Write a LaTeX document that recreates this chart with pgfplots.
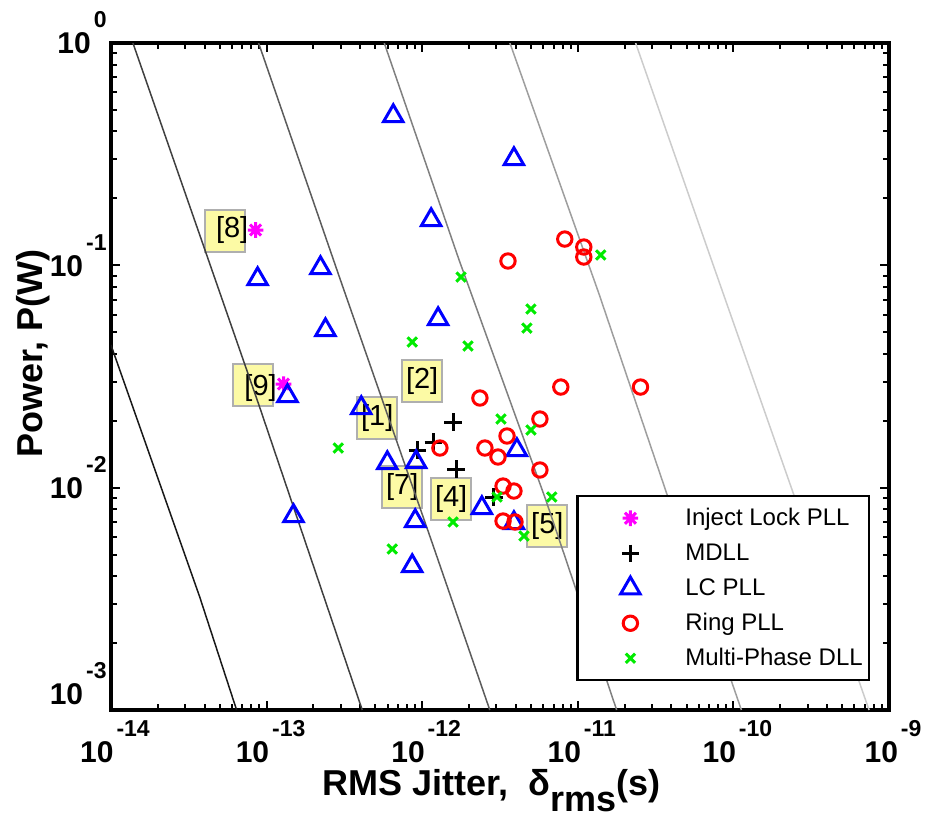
\documentclass[border=0pt]{standalone}
\usepackage{fontspec}
\setmainfont{Liberation Sans}
\usepackage{pgfplots}
\pgfplotsset{compat=1.18}

\pgfdeclareplotmark{ast8}{%
  \pgfpathmoveto{\pgfqpoint{-\pgfplotmarksize}{0pt}}\pgfpathlineto{\pgfqpoint{\pgfplotmarksize}{0pt}}%
  \pgfpathmoveto{\pgfqpoint{0pt}{-\pgfplotmarksize}}\pgfpathlineto{\pgfqpoint{0pt}{\pgfplotmarksize}}%
  \pgfpathmoveto{\pgfqpoint{-.7071\pgfplotmarksize}{-.7071\pgfplotmarksize}}\pgfpathlineto{\pgfqpoint{.7071\pgfplotmarksize}{.7071\pgfplotmarksize}}%
  \pgfpathmoveto{\pgfqpoint{-.7071\pgfplotmarksize}{.7071\pgfplotmarksize}}\pgfpathlineto{\pgfqpoint{.7071\pgfplotmarksize}{-.7071\pgfplotmarksize}}%
  \pgfusepathqstroke}

\definecolor{lcblue}{RGB}{0,0,255}
\definecolor{ringred}{RGB}{255,0,0}
\definecolor{dllgreen}{RGB}{0,235,0}
\definecolor{injmag}{RGB}{255,0,255}
\definecolor{boxfill}{RGB}{252,250,165}
\definecolor{boxdraw}{RGB}{175,175,175}
\definecolor{cA}{gray}{0.1}
\definecolor{cB}{gray}{0.25}
\definecolor{cC}{gray}{0.36}
\definecolor{cD}{gray}{0.5}
\definecolor{cE}{gray}{0.62}
\definecolor{cF}{gray}{0.8}

\pgfplotsset{mylegimg/.style={legend image code/.code={\path[draw=none,fill=none] (0pt,-1pt) rectangle (51pt,1pt);\draw[mark repeat=2,mark phase=2,##1] plot coordinates {(0pt,0pt) (25.5pt,0pt) (51pt,0pt)};}}}

\newcommand{\tl}[1]{{\bfseries\fontsize{15}{15}\selectfont 10\hspace{1.5pt}\raisebox{13pt}{\fontsize{11.5}{11.5}\selectfont #1}}}

\begin{document}
\begin{tikzpicture}
\begin{axis}[
  scale only axis, width=389pt, height=333.5pt,
  xmode=log, ymode=log,
  xmin=1e-14, xmax=1e-9, ymin=1e-3, ymax=1,
  axis line style={line width=2pt},
  tick style={line width=1pt, black},
  major tick length=4.5pt, minor tick length=3pt,
  tick align=inside,
  xticklabel={\pgfmathparse{int(round(\tick/2.302585093))}\edef\ex{\pgfmathresult}\tl{\ex}},
  yticklabel={\pgfmathparse{int(round(\tick/2.302585093))}\edef\ex{\pgfmathresult}\ifnum\ex=-3 \raisebox{8.25pt}{\tl{\ex}}\else\tl{\ex}\fi},
  xticklabel style={anchor=north, inner sep=0pt, yshift=-5pt, xshift=2pt},
  yticklabel style={anchor=base east, inner sep=0pt, xshift=-2pt, yshift=-5.4pt},
  xlabel={\bfseries\fontsize{18}{18}\selectfont RMS Jitter,\ \ δ\raisebox{-8pt}{rms}(s)},
  xlabel style={at={(axis description cs:0.489,-0.128)}, anchor=base, inner sep=0pt},
  ylabel={\bfseries\fontsize{18}{18}\selectfont Power, P(W)},
  ylabel style={at={(axis description cs:-0.0874,0.535)}, anchor=base, inner sep=0pt},
  legend style={at={(axis description cs:0.9756,0.3223)}, anchor=north east,
    draw=black, line width=1.2pt, fill=white, inner xsep=1pt, inner ysep=2.25pt,
    font=\fontsize{12}{12}\selectfont,
    nodes={inner xsep=2pt, inner ysep=0pt, text height=12.6pt, text depth=4.9pt},
    row sep=0pt, cells={anchor=west}},
]
% reference label boxes
\node[draw=boxdraw, fill=boxfill, line width=1pt, minimum width=20pt, minimum height=21pt, inner sep=0pt] at (axis cs:5.38e-14,0.1434) {};
\node[draw=boxdraw, fill=boxfill, line width=1pt, minimum width=20pt, minimum height=21pt, inner sep=0pt] at (axis cs:8.135e-14,0.02895) {};
\node[draw=boxdraw, fill=boxfill, line width=1pt, minimum width=20pt, minimum height=21pt, inner sep=0pt] at (axis cs:1e-12,0.03018) {};
\node[draw=boxdraw, fill=boxfill, line width=1pt, minimum width=20pt, minimum height=21pt, inner sep=0pt] at (axis cs:5.146e-13,0.02068) {};
\node[draw=boxdraw, fill=boxfill, line width=1pt, minimum width=20pt, minimum height=21pt, inner sep=0pt] at (axis cs:7.44e-13,0.01002) {};
\node[draw=boxdraw, fill=boxfill, line width=1pt, minimum width=20pt, minimum height=21pt, inner sep=0pt] at (axis cs:1.535e-12,0.00889) {};
\node[draw=boxdraw, fill=boxfill, line width=1pt, minimum width=20pt, minimum height=21pt, inner sep=0pt] at (axis cs:6.375e-12,0.006723) {};
\node[font=\fontsize{14.5}{14.5}\selectfont, inner sep=0pt] at (axis cs:6.008e-14,0.1442) {[8]};
\node[font=\fontsize{14.5}{14.5}\selectfont, inner sep=0pt] at (axis cs:9.15e-14,0.02807) {[9]};
\node[font=\fontsize{14.5}{14.5}\selectfont, inner sep=0pt] at (axis cs:1e-12,0.03018) {[2]};
\node[font=\fontsize{14.5}{14.5}\selectfont, inner sep=0pt] at (axis cs:5.146e-13,0.02068) {[1]};
\node[font=\fontsize{14.5}{14.5}\selectfont, inner sep=0pt] at (axis cs:7.44e-13,0.01002) {[7]};
\node[font=\fontsize{14.5}{14.5}\selectfont, inner sep=0pt] at (axis cs:1.535e-12,0.00889) {[4]};
\node[font=\fontsize{14.5}{14.5}\selectfont, inner sep=0pt] at (axis cs:6.375e-12,0.006723) {[5]};

% constant figure-of-merit lines
\addplot[forget plot, cA, line width=0.75pt] coordinates {(1e-14,0.04383) (3.72e-14,0.003223) (6.42e-14,0.001)};
\addplot[forget plot, cB, line width=0.75pt] coordinates {(1.384e-14,1) (9.02e-14,0.02307) (4.12e-13,0.001)};
\addplot[forget plot, cC, line width=0.75pt] coordinates {(8.885e-14,1) (2.938e-13,0.0886) (1.143e-12,0.005814) (2.72e-12,0.001)};
\addplot[forget plot, cD, line width=0.75pt] coordinates {(5.706e-13,1) (1.727e-12,0.1057) (6.235e-12,0.0088) (1.778e-11,0.001)};
\addplot[forget plot, cE, line width=0.75pt] coordinates {(3.664e-12,1) (1.363e-11,0.0751) (3.72e-11,0.00946) (1.126e-10,0.001)};
\addplot[forget plot, cF, line width=0.75pt] coordinates {(2.354e-11,1) (7.23e-11,0.1057) (2.424e-10,0.00946) (7.45e-10,0.001)};

% Inject Lock PLL
\addplot[only marks, mylegimg, injmag, mark=ast8, mark size=3.9pt, mark options={line width=1.5pt}] coordinates {
(8.50e-14,0.1442) (1.285e-13,0.02925)};
\addlegendentry{Inject Lock PLL}
% MDLL
\addplot[only marks, mylegimg, black, mark=+, mark size=4.3pt, mark options={line width=1.5pt}] coordinates {
(1.580e-12,0.01974) (1.176e-12,0.01605) (9.29e-13,0.01477) (1.652e-12,0.01213) (2.893e-12,0.00908)};
\addlegendentry{MDLL}
% LC PLL
\addplot[only marks, mylegimg, lcblue, mark=triangle, mark size=5.6pt, mark options={line width=1.5pt}] coordinates {
(6.52e-13,0.4695) (3.888e-12,0.3008) (1.142e-12,0.1600) (8.76e-14,0.0868) (2.22e-13,0.09727)
(2.39e-13,0.05119) (1.266e-12,0.05735) (1.363e-13,0.02585) (4.06e-13,0.02282) (5.97e-13,0.01291)
(9.15e-13,0.01304) (4.06e-12,0.01477) (1.49e-13,0.007457) (9.02e-13,0.007082) (2.42e-12,0.008102)
(3.888e-12,0.006937) (8.63e-13,0.004442)};
\addlegendentry{LC PLL}
% Ring PLL
\addplot[only marks, mylegimg, ringred, mark=o, mark size=3.6pt, mark options={line width=1.5pt}] coordinates {
(8.25e-12,0.1313) (1.093e-11,0.1209) (1.093e-11,0.1090) (3.56e-12,0.1046) (7.78e-12,0.02836)
(2.53e-11,0.02836) (2.35e-12,0.02531) (5.71e-12,0.02036) (3.51e-12,0.01708) (2.53e-12,0.01508)
(3.07e-12,0.01374) (5.71e-12,0.01201) (1.30e-12,0.01508) (3.31e-12,0.01017) (3.888e-12,0.00966)
(3.31e-12,0.00708) (3.95e-12,0.00701)};
\addlegendentry{Ring PLL}
% Multi-Phase DLL
\addplot[only marks, mylegimg, dllgreen, mark=x, mark size=3.3pt, mark options={line width=1.5pt}] coordinates {
(1.404e-11,0.1113) (1.778e-12,0.08861) (5.00e-12,0.06362) (4.71e-12,0.05225) (8.63e-13,0.04519)
(1.97e-12,0.04336) (3.21e-12,0.02036) (5.00e-12,0.01817) (2.89e-13,0.01508) (3.03e-12,0.00908)
(6.81e-12,0.00908) (1.58e-12,0.00701) (4.51e-12,0.00606) (6.42e-13,0.0053)};
\addlegendentry{Multi-Phase DLL}
\end{axis}
\pgfresetboundingbox
\path[use as bounding box] ([xshift=-55.5pt,yshift=-55.5pt]current axis.south west) rectangle ([xshift=18pt,yshift=21.5pt]current axis.north east);
\end{tikzpicture}
\end{document}
